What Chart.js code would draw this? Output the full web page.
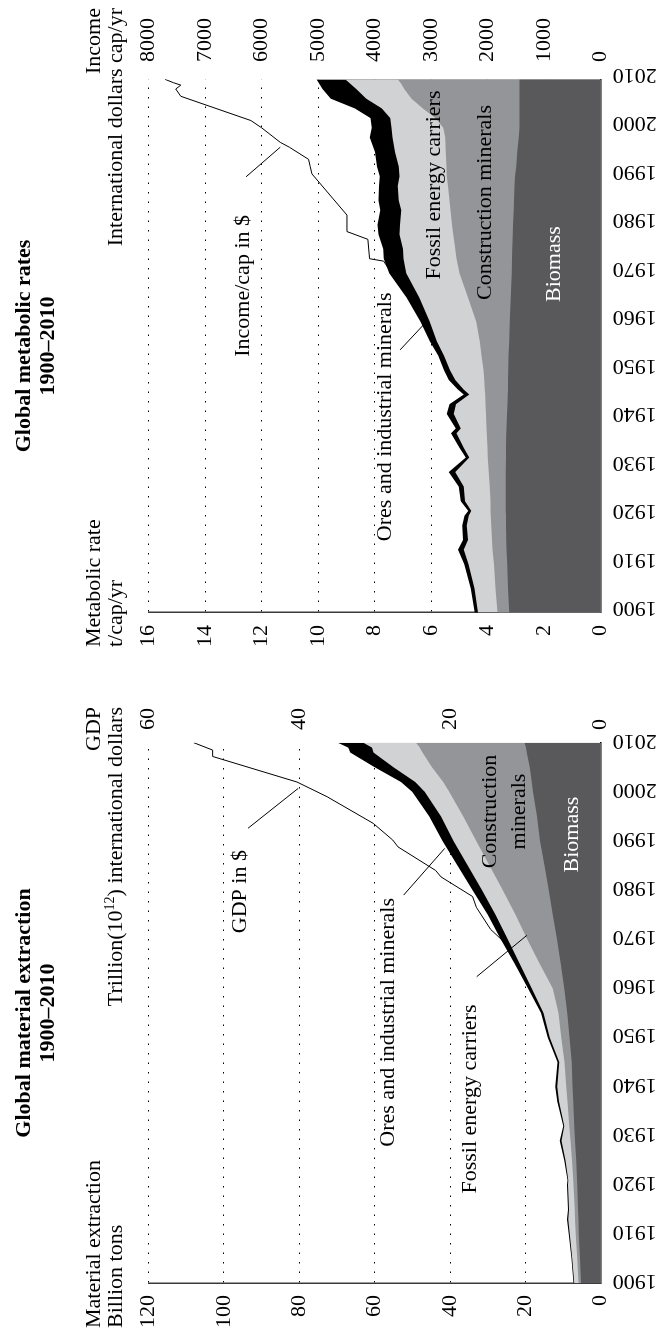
<!DOCTYPE html>
<html>
<head>
<meta charset="utf-8">
<script src="https://cdn.jsdelivr.net/npm/chart.js@4.4.1/dist/chart.umd.min.js"></script>
<style>
  html, body { margin: 0; padding: 0; background: #fff; }
  body { width: 657px; height: 1338px; overflow: hidden; position: relative; }
  /* both panels are laid out side by side, then turned a quarter turn */
  #sheet { position: absolute; left: 0; top: 0; width: 1338px; height: 657px;
           transform-origin: 0 0; transform: translate(0, 1338px) rotate(-90deg); background: #fff; }
  #sheet canvas { position: absolute; top: 0; }
</style>
</head>
<body>
<div id="sheet">
  <canvas id="extraction" width="669" height="657" style="left:0px"></canvas>
  <canvas id="metabolic" width="669" height="657" style="left:669px"></canvas>
</div>
<script>
// ---------- Global material extraction (billion tons) ----------
const EXT_YEARS = [1900,1905,1910,1913,1915,1920,1921,1925,1929,1932,1937,1940,1945,1950,1955,1960,1965,1970,1975,1980,1985,1990,1995,2000,2002,2005,2008,2009,2010];
const EXT_BIOMASS      = [5.2,5.5,5.8,5.9,6.0,6.2,6.3,6.5,6.8,7.0,7.3,7.5,7.7,8.3,8.9,9.7,10.6,11.6,12.7,13.8,14.9,16.1,16.9,18.0,18.3,18.8,19.6,19.8,20.2];
const EXT_CONSTRUCTION = [0.7,0.75,0.8,0.9,0.9,1.0,1.0,1.1,1.2,1.35,1.5,1.65,1.9,2.2,2.3,3.0,5.6,7.9,9.9,12.2,14.6,16.9,19.6,22.2,23.5,26.0,27.7,28.2,28.8];
const EXT_FOSSIL       = [1.1,1.3,1.6,1.8,1.5,1.45,1.3,1.75,2.4,1.35,2.3,2.4,1.4,3.0,4.0,5.6,5.3,5.2,5.3,5.5,5.8,6.1,5.9,6.5,7.4,10.2,13.0,12.7,14.0];
const EXT_ORES         = [0.2,0.22,0.26,0.36,0.31,0.28,0.21,0.3,0.46,0.27,0.44,0.5,0.47,0.56,0.65,1.0,1.3,1.8,2.1,2.5,2.7,2.9,3.1,3.3,3.8,5.0,6.2,6.3,6.8];

// world GDP, trillion international dollars
const GDP_YEARS = [1900,1910,1920,1930,1940,1950,1960,1965,1970,1972,1976.5,1978.7,1982.7,1984,1988.8,1990.2,1993.6,1999,2002,2007.2,2008.5,2010];
const GDP_VALUES = [2.3,2.8,3.3,3.9,4.7,5.4,7.9,10.4,13.2,14.6,16.5,17.0,21.2,21.9,26.9,27.6,30.2,36.3,40.3,51.5,51.5,54.0];

// ---------- Global metabolic rates (t/cap/yr) ----------
const MR_YEARS = [1900,1905,1910,1913,1915,1918,1920,1921,1923,1926,1929,1932,1934,1937,1938,1941,1943,1945,1946,1948,1950,1953,1956,1960,1965,1970,1973,1975,1978,1980,1983,1985,1988,1990,1992,1995,1998,2000,2002,2004,2006,2008,2009,2010];
const MR_BIOMASS      = [3.24,3.28,3.31,3.33,3.34,3.35,3.35,3.36,3.36,3.36,3.36,3.35,3.35,3.34,3.33,3.32,3.30,3.29,3.28,3.28,3.27,3.26,3.24,3.22,3.18,3.15,3.14,3.13,3.11,3.10,3.08,3.07,3.05,3.03,2.99,2.95,2.90,2.87,2.87,2.87,2.87,2.87,2.87,2.87];
const MR_CONSTRUCTION = [0.41,0.44,0.47,0.50,0.51,0.52,0.54,0.54,0.54,0.57,0.60,0.65,0.66,0.69,0.71,0.74,0.78,0.80,0.82,0.84,0.88,0.96,1.04,1.18,1.52,1.85,1.96,2.02,2.11,2.16,2.24,2.28,2.35,2.42,2.47,2.53,2.60,2.70,2.98,3.43,3.83,4.08,4.18,4.31];
const MR_FOSSIL       = [0.69,0.75,0.90,1.02,0.85,0.87,0.78,0.68,0.90,0.92,1.19,0.65,0.84,1.07,0.91,1.14,1.04,0.56,0.75,1.03,1.18,1.33,1.52,1.65,1.72,1.88,1.88,1.85,1.90,1.84,1.74,1.80,1.78,1.67,1.69,1.80,1.87,1.83,1.60,1.45,1.60,1.70,1.80,1.86];
const MR_ORES         = [0.12,0.13,0.15,0.20,0.17,0.16,0.15,0.11,0.15,0.17,0.23,0.13,0.15,0.20,0.18,0.25,0.23,0.20,0.20,0.23,0.22,0.20,0.25,0.33,0.45,0.60,0.70,0.70,0.74,0.80,0.74,0.71,0.67,0.70,0.77,0.71,0.80,0.70,0.70,0.95,1.25,1.20,1.10,1.02];

// income per capita, international dollars
const INCOME_YEARS = [1900,1905,1915,1922,1927,1932,1940,1950,1954,1960,1965,1970,1972.5,1973,1977,1978.6,1982,1990.5,1992,1993.5,1996,1997,2000,2001.5,2006.5,2008,2008.8,2009.3,2010];
const INCOME_VALUES = [1250,1360,1550,1670,1800,1890,1980,2075,2400,2680,3100,3700,3840,4090,4120,4490,4490,5110,5140,5170,5510,5670,6000,6190,7430,7520,7430,7560,7710];

// axis ticks
const YEAR_TICKS = { min: 1900, max: 2010, step: 10 };
const EXT_TICKS = { min: 0, max: 120, step: 20 };
const GDP_TICKS = { min: 0, max: 60, step: 20 };
const MR_TICKS = { min: 0, max: 16, step: 2 };
const INCOME_TICKS = { min: 0, max: 8000, step: 1000 };

const SERIF = '"Liberation Serif", "Times New Roman", Times, serif';
const SIZE = 22;
const SHADES = { biomass: '#59595b', construction: '#939598', fossil: '#d1d2d4', ores: '#000000' };

Chart.defaults.font.family = SERIF;
Chart.defaults.font.size = SIZE;
Chart.defaults.color = '#000';

const points = (xs, ys) => xs.map((x, i) => ({ x, y: ys[i] }));

function area(label, xs, ys, color) {
  return { label, data: points(xs, ys), yAxisID: 'y', backgroundColor: color, borderColor: color,
           borderWidth: 0, pointRadius: 0, fill: 'origin', tension: 0 };
}
function trace(label, xs, ys) {
  return { label, data: points(xs, ys), yAxisID: 'y2', borderColor: '#000', borderWidth: 1,
           pointRadius: 0, fill: false, tension: 0 };
}

// text labels, leader lines and headings
const annotate = {
  id: 'annotate',
  afterDatasetsDraw(chart, args, o) {
    const { ctx } = chart;
    const x = chart.scales.x, y = chart.scales.y;
    ctx.save();
    ctx.font = `${SIZE}px ${SERIF}`;
    ctx.textAlign = 'center';
    ctx.textBaseline = 'middle';
    for (const t of o.texts) {
      ctx.fillStyle = t.color || '#000';
      ctx.fillText(t.text, x.getPixelForValue(t.at[0]), y.getPixelForValue(t.at[1]));
    }
    ctx.strokeStyle = '#000';
    ctx.lineWidth = 1;
    for (const l of o.leaders) {
      ctx.beginPath();
      ctx.moveTo(x.getPixelForValue(l[0]), y.getPixelForValue(l[1]));
      ctx.lineTo(x.getPixelForValue(l[2]), y.getPixelForValue(l[3]));
      ctx.stroke();
    }
    ctx.restore();
  },
  afterDraw(chart, args, o) {
    const { ctx } = chart;
    const h = o.heading;
    ctx.save();
    ctx.fillStyle = '#000';
    ctx.textBaseline = 'alphabetic';
    ctx.font = `bold ${SIZE}px ${SERIF}`;
    ctx.textAlign = 'center';
    ctx.fillText(h.title[0], h.titleX, h.titleY[0]);
    ctx.fillText(h.title[1], h.titleX, h.titleY[1]);
    ctx.font = `${SIZE}px ${SERIF}`;
    ctx.textAlign = 'left';
    ctx.fillText(h.left[0], h.leftX, h.lineY[0]);
    ctx.fillText(h.left[1], h.leftX, h.lineY[1]);
    ctx.textAlign = 'right';
    ctx.fillText(h.right[0], h.rightX, h.lineY[0]);
    const r = h.right[1];
    if (Array.isArray(r)) {
      // text with a superscript part: [before, sup, after]
      const small = `${Math.round(SIZE * 0.65)}px ${SERIF}`;
      ctx.font = `${SIZE}px ${SERIF}`;
      const wA = ctx.measureText(r[0]).width, wC = ctx.measureText(r[2]).width;
      ctx.font = small;
      const wB = ctx.measureText(r[1]).width;
      let cx = h.rightX - (wA + wB + wC);
      ctx.textAlign = 'left';
      ctx.font = `${SIZE}px ${SERIF}`;
      ctx.fillText(r[0], cx, h.lineY[1]); cx += wA;
      ctx.font = small;
      ctx.fillText(r[1], cx, h.lineY[1] - 8); cx += wB;
      ctx.font = `${SIZE}px ${SERIF}`;
      ctx.fillText(r[2], cx, h.lineY[1]);
    } else {
      ctx.fillText(r, h.rightX, h.lineY[1]);
    }
    ctx.restore();
  }
};

function scalesFor(cfg) {
  return {
    x: {
      type: 'linear', min: YEAR_TICKS.min, max: YEAR_TICKS.max,
      border: { display: true, color: '#000', width: 1.5 },
      grid: { display: false, drawTicks: false },
      ticks: { stepSize: YEAR_TICKS.step, autoSkip: false, minRotation: 90, maxRotation: 90,
               padding: 12, labelOffset: cfg.labelOffset, callback: v => String(v) },
      afterFit: s => { s.height = cfg.bottom; }
    },
    y: {
      type: 'linear', stacked: true, position: 'left',
      min: cfg.left.min, max: cfg.left.max,
      border: { display: true, color: '#3a3a3a', width: 1.5, dash: [1.5, 8] },
      grid: { color: '#000', lineWidth: 1, drawTicks: false },
      ticks: { stepSize: cfg.left.step, padding: cfg.leftPad, callback: v => String(v) },
      afterFit: s => { s.width = cfg.leftW; }
    },
    y2: {
      type: 'linear', position: 'right', stacked: false,
      min: cfg.right.min, max: cfg.right.max,
      border: { display: false },
      grid: { display: false, drawTicks: false },
      ticks: { stepSize: cfg.right.step, padding: cfg.rightPad, callback: v => String(v) },
      afterFit: s => { s.width = cfg.rightW; }
    }
  };
}

function build(id, datasets, cfg, notes) {
  return new Chart(document.getElementById(id), {
    type: 'line',
    data: { datasets },
    options: {
      responsive: false, animation: false, devicePixelRatio: 1, events: [],
      layout: { padding: { top: cfg.top, left: 0, right: 0, bottom: 0 } },
      scales: scalesFor(cfg),
      plugins: { legend: { display: false }, tooltip: { enabled: false }, annotate: notes }
    },
    plugins: [annotate]
  });
}

build('extraction', [
  area('Biomass', EXT_YEARS, EXT_BIOMASS, SHADES.biomass),
  area('Construction minerals', EXT_YEARS, EXT_CONSTRUCTION, SHADES.construction),
  area('Fossil energy carriers', EXT_YEARS, EXT_FOSSIL, SHADES.fossil),
  area('Ores and industrial minerals', EXT_YEARS, EXT_ORES, SHADES.ores),
  trace('GDP in $', GDP_YEARS, GDP_VALUES)
], {
  top: 148.6, bottom: 56.3, leftW: 54.7, rightW: 73.7, leftPad: 11.7, rightPad: 12.7, labelOffset: 2.3,
  left: EXT_TICKS, right: GDP_TICKS
}, {
  texts: [
    { text: 'GDP in $', at: [1979.7, 95.8] },
    { text: 'Construction', at: [1996.0, 29.4] },
    { text: 'minerals', at: [1996.0, 21.7] },
    { text: 'Biomass', at: [1991.3, 7.6], color: '#fff' },
    { text: 'Ores and industrial minerals', at: [1953.1, 56.5] },
    { text: 'Fossil energy carriers', at: [1937.5, 34.6] }
  ],
  leaders: [
    [1992.6, 93.6, 2000.7, 80.3],
    [1979.0, 52.3, 1988.5, 41.4],
    [1962.4, 32.9, 1970.8, 19.6]
  ],
  heading: {
    title: ['Global material extraction', '1900\u20132010'], titleX: 325, titleY: [30, 54],
    left: ['Material extraction', 'Billion tons'], leftX: 10,
    right: ['GDP', ['Trillion(10', '12', ') international dollars']], rightX: 631,
    lineY: [100, 122]
  }
});

build('metabolic', [
  area('Biomass', MR_YEARS, MR_BIOMASS, SHADES.biomass),
  area('Construction minerals', MR_YEARS, MR_CONSTRUCTION, SHADES.construction),
  area('Fossil energy carriers', MR_YEARS, MR_FOSSIL, SHADES.fossil),
  area('Ores and industrial minerals', MR_YEARS, MR_ORES, SHADES.ores),
  trace('Income/cap in $', INCOME_YEARS, INCOME_VALUES)
], {
  top: 148.6, bottom: 56.3, leftW: 56.3, rightW: 79.3, leftPad: 12.3, rightPad: 17.3, labelOffset: 4.9,
  left: MR_TICKS, right: INCOME_TICKS
}, {
  texts: [
    { text: 'Fossil energy carriers', at: [1988.2, 5.9] },
    { text: 'Construction minerals', at: [1984.6, 4.1] },
    { text: 'Biomass', at: [1971.9, 1.65], color: '#fff' },
    { text: 'Income/cap in $', at: [1967.4, 12.65] },
    { text: 'Ores and industrial minerals', at: [1940.4, 7.61] }
  ],
  leaders: [
    [1989.9, 12.55, 1996.0, 11.34],
    [1954.2, 7.1, 1959.5, 6.25]
  ],
  heading: {
    title: ['Global metabolic rates', '1900\u20132010'], titleX: 323, titleY: [30, 54],
    left: ['Metabolic rate', 't/cap/yr'], leftX: 22,
    right: ['Income', 'International dollars cap/yr'], rightX: 661,
    lineY: [100, 122]
  }
});
</script>
</body>
</html>
